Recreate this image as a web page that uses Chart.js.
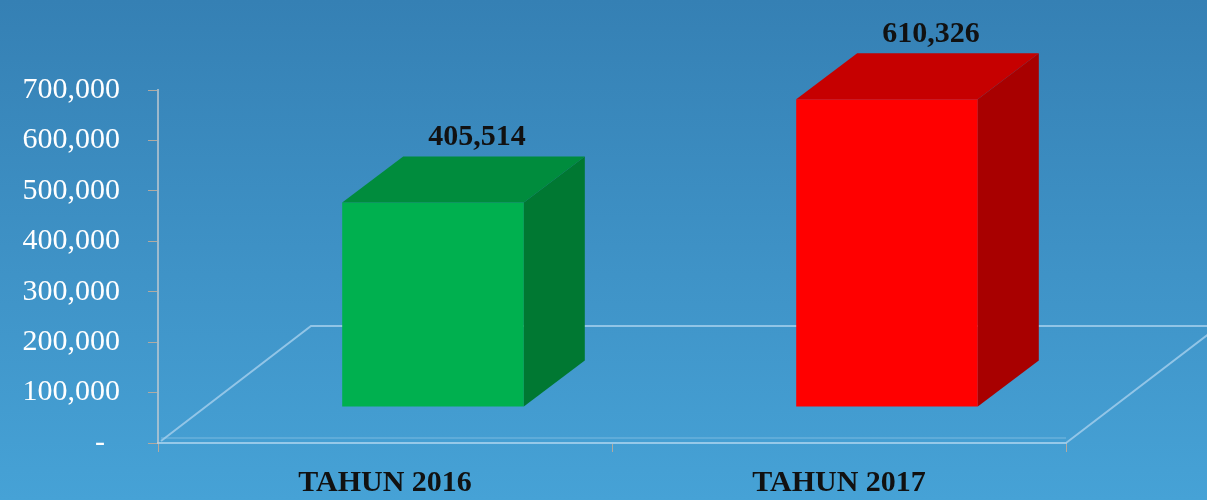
<!DOCTYPE html>
<html>
<head>
<meta charset="utf-8">
<script src="https://cdn.jsdelivr.net/npm/chart.js@4"></script>
<style>
  html, body { margin: 0; padding: 0; }
  body { width: 1207px; height: 500px; background: linear-gradient(to bottom, #3580b4 0%, #3f93c7 55%, #46a2d6 100%); }
  canvas { display: block; }
</style>
</head>
<body>
<canvas id="chart" width="1207" height="500"></canvas>
<script>
const categories = ['TAHUN 2016', 'TAHUN 2017'];
const values = [405514, 610326];
const frontColors = ['#00b04f', '#ff0000'];
const topColors = ['#008c3d', '#c60000'];
const sideColors = ['#007832', '#a80000'];
const yTicks = [0, 100000, 200000, 300000, 400000, 500000, 600000, 700000];

// 3d look: bars sit a bit back on the floor, floor goes back by floorX/floorY
const shiftX = 48, shiftY = -36;
const depthX = 61, depthY = -46;
const floorX = 153, floorY = -117;

const fmt = v => v.toLocaleString('en-US');

const floorPlugin = {
  id: 'floor',
  beforeDatasetsDraw(chart) {
    let ctx = chart.ctx;
    let a = chart.chartArea;
    ctx.save();
    ctx.strokeStyle = 'rgba(160,205,235,0.85)';
    ctx.lineWidth = 2;
    ctx.beginPath();
    ctx.moveTo(a.left + 3, a.bottom - 2);
    ctx.lineTo(a.left + floorX, a.bottom + floorY);
    ctx.lineTo(chart.width, a.bottom + floorY);
    ctx.moveTo(a.right, a.bottom);
    ctx.lineTo(a.right + floorX, a.bottom + floorY);
    ctx.stroke();
    ctx.strokeStyle = 'rgba(160,205,235,0.3)';
    ctx.beginPath();
    ctx.moveTo(a.left + 3, a.bottom - 5);
    ctx.lineTo(a.right, a.bottom - 5);
    ctx.stroke();
    ctx.restore();
    // move the bars back onto the floor
    ctx.save();
    ctx.translate(shiftX, shiftY);
  },
  afterDatasetsDraw(chart) {
    let ctx = chart.ctx;
    let bars = chart.getDatasetMeta(0).data;
    bars.forEach((bar, i) => {
      let l = bar.x - bar.width / 2;
      let r = bar.x + bar.width / 2;
      ctx.fillStyle = topColors[i];
      ctx.beginPath();
      ctx.moveTo(l, bar.y);
      ctx.lineTo(l + depthX, bar.y + depthY);
      ctx.lineTo(r + depthX, bar.y + depthY);
      ctx.lineTo(r, bar.y);
      ctx.closePath();
      ctx.fill();
      ctx.fillStyle = sideColors[i];
      ctx.beginPath();
      ctx.moveTo(r, bar.y);
      ctx.lineTo(r + depthX, bar.y + depthY);
      ctx.lineTo(r + depthX, bar.base + depthY);
      ctx.lineTo(r, bar.base);
      ctx.closePath();
      ctx.fill();
      ctx.fillStyle = '#111';
      ctx.font = 'bold 30px "Liberation Serif"';
      ctx.textAlign = 'center';
      ctx.textBaseline = 'middle';
      ctx.fillText(fmt(values[i]), bar.x + depthX * 0.72, bar.y + depthY - 19);
    });
    ctx.restore();
  }
};

new Chart(document.getElementById('chart'), {
  type: 'bar',
  data: {
    labels: categories,
    datasets: [{
      data: values,
      backgroundColor: frontColors,
      borderWidth: 0,
      categoryPercentage: 1,
      barPercentage: 0.4,
      clip: false
    }]
  },
  options: {
    responsive: false,
    animation: false,
    layout: { padding: { top: 90, right: 141, left: 0, bottom: 0 } },
    plugins: { legend: { display: false }, tooltip: { enabled: false } },
    scales: {
      x: {
        offset: true,
        afterFit: s => { s.height = 57; },
        grid: { drawOnChartArea: false, tickLength: 9, color: '#b2aaa0' },
        border: { color: 'rgba(160,205,235,0.9)', width: 2 },
        ticks: { color: '#111', padding: 13, font: { family: 'Liberation Serif', size: 30, weight: 'bold' } }
      },
      y: {
        min: 0,
        max: 700000,
        afterFit: s => { s.width = 158; },
        afterBuildTicks: s => { s.ticks = yTicks.map(v => ({ value: v })); },
        grid: { drawOnChartArea: false, tickLength: 10, color: '#b2aaa0' },
        border: { color: 'rgba(200,205,210,0.7)', width: 2 },
        ticks: {
          color: '#ffffff',
          padding: 28,
          font: { family: 'Liberation Serif', size: 30 },
          callback: v => v === 0 ? '-  ' : fmt(v)
        }
      }
    }
  },
  plugins: [floorPlugin]
});
</script>
</body>
</html>
